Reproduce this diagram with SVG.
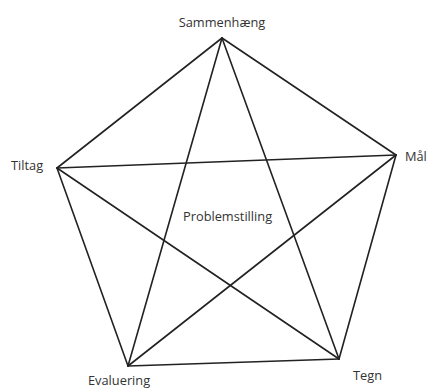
<svg xmlns="http://www.w3.org/2000/svg" width="429" height="390" viewBox="0 0 429 390">
<style>
.e{stroke:#222;stroke-width:1.6;fill:none;stroke-linecap:round}
.t{font-family:"Open Sans","Noto Sans",sans-serif;font-size:12.8px;fill:#333}
</style>
<rect width="429" height="390" fill="#fff"/>
<g id="connectors">
<line class="e" x1="222" y1="38" x2="57" y2="168"/>
<line class="e" x1="222" y1="38" x2="396" y2="155"/>
<line class="e" x1="222" y1="38" x2="128" y2="366"/>
<line class="e" x1="222" y1="38" x2="339" y2="359"/>
<line class="e" x1="57" y1="168" x2="396" y2="155"/>
<line class="e" x1="57" y1="168" x2="128" y2="366"/>
<line class="e" x1="57" y1="168" x2="339" y2="359"/>
<line class="e" x1="396" y1="155" x2="128" y2="366"/>
<line class="e" x1="396" y1="155" x2="339" y2="359"/>
<line class="e" x1="128" y1="366" x2="339" y2="359"/>
</g>
<g id="sammenhaeng"><text class="t" x="222" y="27" text-anchor="middle">Sammenhæng</text></g>
<g id="tiltag"><text class="t" x="11" y="170">Tiltag</text></g>
<g id="maal"><text class="t" x="405" y="161">Mål</text></g>
<g id="evaluering"><text class="t" x="88" y="385">Evaluering</text></g>
<g id="tegn"><text class="t" x="353" y="380">Tegn</text></g>
<g id="problemstilling"><text class="t" x="183" y="221">Problemstilling</text></g>
</svg>
